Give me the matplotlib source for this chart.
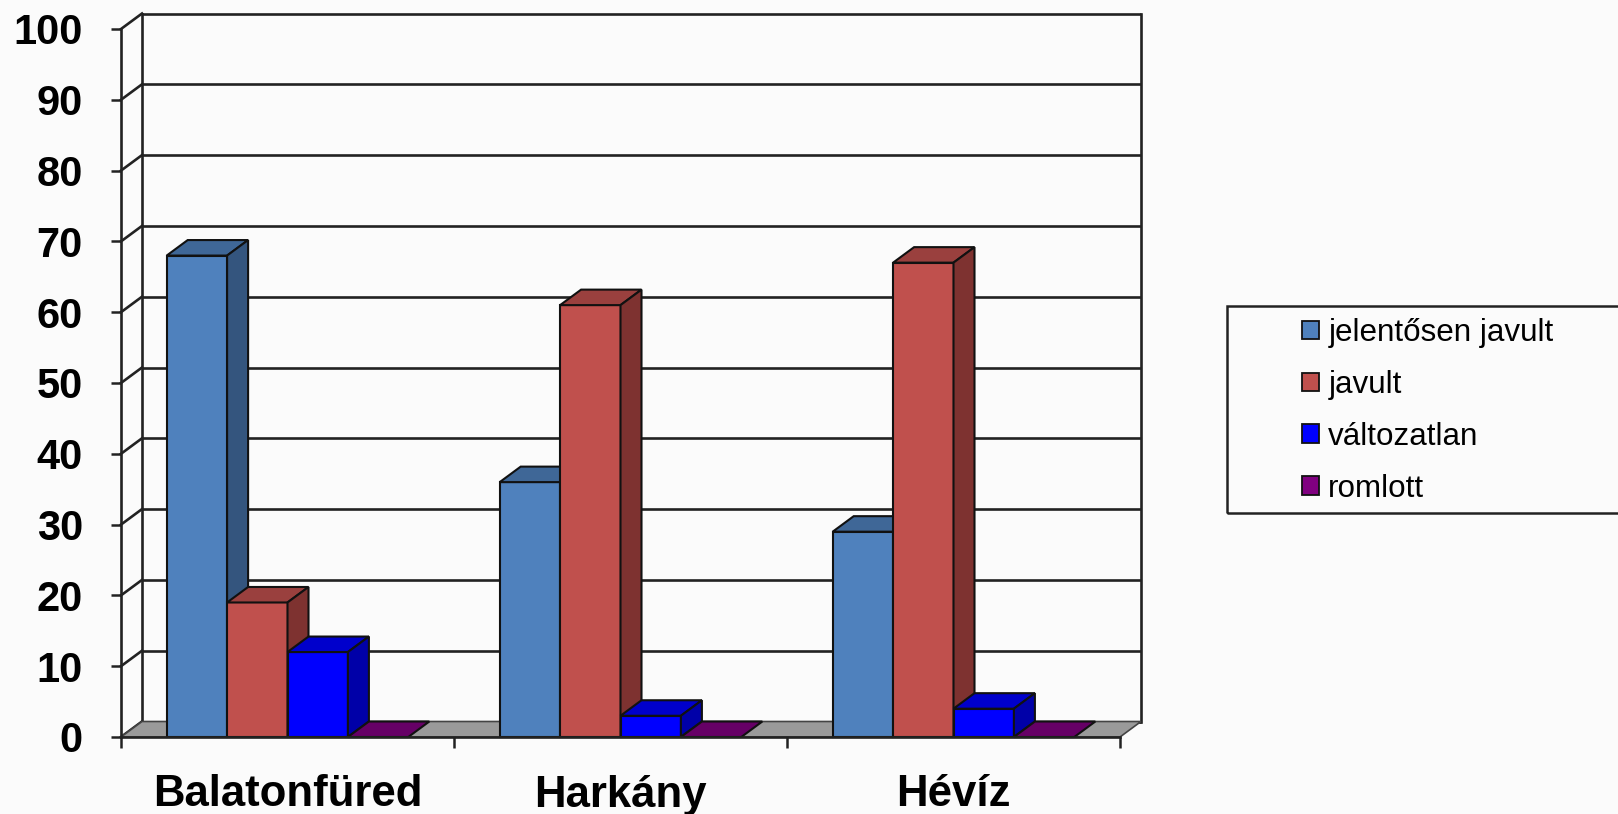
import matplotlib
matplotlib.use("Agg")
import matplotlib.pyplot as plt
from matplotlib.patches import Polygon, Rectangle, Patch

plt.rcParams['font.family'] = ['Liberation Sans', 'DejaVu Sans']

# ---- data ----
categories = ["Balatonfüred", "Harkány", "Hévíz"]
series_names = ["jelentősen javult", "javult", "változatlan", "romlott"]
jelentosen_javult = [68, 36, 29]
javult = [19, 61, 67]
valtozatlan = [12, 3, 4]
romlott = [0, 0, 0]
series_values = [jelentosen_javult, javult, valtozatlan, romlott]
y_ticks = list(range(0, 101, 10))

# ---- styles ----
front_colors = ['#4F81BD', '#C0504D', '#0000FF', '#800080']
top_colors = ['#3F6797', '#9A403E', '#0000CC', '#660066']
side_colors = ['#34557E', '#7E3230', '#0000A8', '#550055']
bg = '#fbfbfb'
line_c = '#222222'
edge_c = '#111111'

W, H = 1618, 814
fig = plt.figure(figsize=(W / 100, H / 100), dpi=100, facecolor=bg)

# front plane of the plot in pixels
px_left, px_right = 121, 1120
px_zero, px_top = 737, 29
ax = fig.add_axes([px_left / W, 1 - px_zero / H,
                   (px_right - px_left) / W, (px_zero - px_top) / H])
ax.set_facecolor('none')
n_cat = len(categories)
ax.set_xlim(0, n_cat)
ax.set_ylim(0, 100)

# depth offsets (data units)
DX = 21 / ((px_right - px_left) / n_cat)
DY = 15.5 / ((px_zero - px_top) / 100)

# back wall gridlines + side wall diagonals
glw = 1.9
for v in y_ticks:
    ax.plot([DX, n_cat + DX], [v + DY, v + DY], color=line_c, lw=glw,
            zorder=1, clip_on=False, solid_capstyle='butt')
    ax.plot([0, DX], [v, v + DY], color=line_c, lw=glw, zorder=1,
            clip_on=False)
ax.plot([DX, DX], [DY, 100 + DY], color=line_c, lw=glw, zorder=1, clip_on=False)
ax.plot([n_cat + DX, n_cat + DX], [DY, 100 + DY], color=line_c, lw=glw,
        zorder=1, clip_on=False)

# floor
ax.add_patch(Polygon([(0, 0), (n_cat, 0), (n_cat + DX, DY), (DX, DY)],
                     closed=True, facecolor='#9a9a9a', edgecolor='#444444',
                     lw=1.2, zorder=2, clip_on=False))

# bars
n_ser = len(series_values)
w = 60.4 / ((px_right - px_left) / n_cat)
off = (1 - n_ser * w) / 2
blw = 1.5
for j, vals in enumerate(series_values):
    z = 3 + j
    lefts = [i + off + j * w for i in range(n_cat)]
    ax.bar(lefts, vals, width=w, align='edge', color=front_colors[j],
           edgecolor=edge_c, lw=blw, zorder=z, clip_on=False)
    for xl, v in zip(lefts, vals):
        top = Polygon([(xl, v), (xl + w, v), (xl + w + DX, v + DY), (xl + DX, v + DY)],
                      closed=True, facecolor=top_colors[j], edgecolor=edge_c,
                      lw=blw, zorder=z, clip_on=False, joinstyle='miter')
        ax.add_patch(top)
        if v > 0:
            side = Polygon([(xl + w, 0), (xl + w + DX, DY), (xl + w + DX, v + DY), (xl + w, v)],
                           closed=True, facecolor=side_colors[j], edgecolor=edge_c,
                           lw=blw, zorder=z, clip_on=False)
            ax.add_patch(side)

# axes spines / ticks
for s in ['top', 'right']:
    ax.spines[s].set_visible(False)
for s in ['left', 'bottom']:
    ax.spines[s].set_color(line_c)
    ax.spines[s].set_linewidth(1.9)
    ax.spines[s].set_zorder(10)

ax.set_yticks(y_ticks)
ax.set_yticklabels([str(t) for t in y_ticks], fontsize=30, fontweight='bold')
ax.tick_params(axis='y', direction='out', length=7.5, width=1.8, color=line_c, pad=20)

ax.set_xticks(list(range(n_cat + 1)))
ax.set_xticklabels([''] * (n_cat + 1))
ax.set_xticks([i + 0.5 for i in range(n_cat)], minor=True)
ax.set_xticklabels(categories, minor=True, fontsize=31.5, fontweight='bold')
ax.tick_params(axis='x', which='major', direction='out', length=8, width=1.8, color=line_c)
ax.tick_params(axis='x', which='minor', length=0, pad=27)

# legend
handles = [Patch(facecolor=c, edgecolor='#111111', lw=1.3) for c in front_colors]
fig.legend(handles, series_names, loc='upper left',
           bbox_to_anchor=(1302 / W, 1 - 318 / H), frameon=False, fontsize=22.6,
           handlelength=0.54, handleheight=0.54, handletextpad=0.30,
           labelspacing=0.70, borderpad=0, borderaxespad=0)
fig.patches.append(Rectangle((1227 / W, 1 - 513 / H), (1660 - 1227) / W, (513 - 306) / H,
                             transform=fig.transFigure, fill=False,
                             edgecolor='#222222', lw=1.8))

fig.savefig('out.png', dpi=100, facecolor=bg)
